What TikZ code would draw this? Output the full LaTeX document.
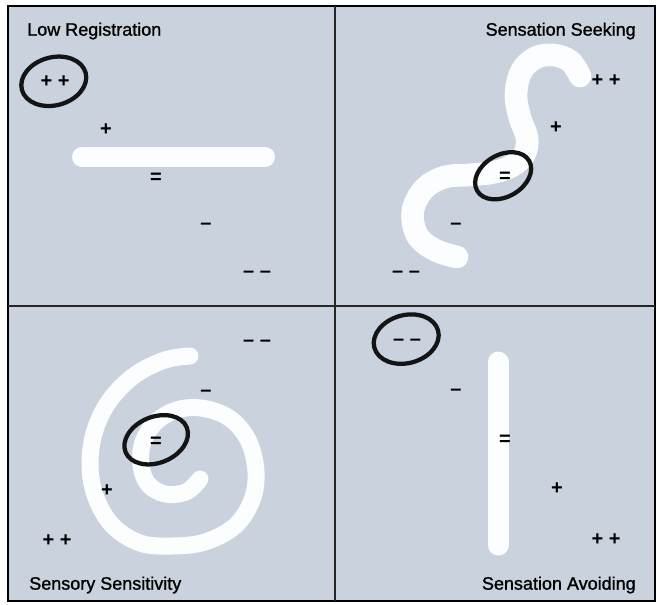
\documentclass[tikz,border=0pt]{standalone}
\usepackage{fontspec}
\setmainfont{Liberation Sans}
\newfontfamily\panelfont[FakeBold=1.2]{Liberation Sans}
\usepackage{xcolor}
\usetikzlibrary{positioning}
\definecolor{cardblue}{HTML}{C9D2DD}
\definecolor{pathwhite}{HTML}{FCFDFE}
\definecolor{inkblack}{HTML}{141414}

\begin{document}
\begin{tikzpicture}[
  x=0.75pt,y=-0.75pt,
  quadlabel/.style={font=\panelfont\fontsize{13.5}{16}\selectfont,inner sep=0pt},
  sign/.style={font=\fontsize{15}{18}\selectfont\bfseries,inner sep=1pt},
  track/.style={pathwhite,line cap=round,line join=round},
  circled/.style={inkblack,line width=3.2pt},
  divider/.style={black!85,line width=1.5pt}
]
  \useasboundingbox (0,0) rectangle (657,604);
  \draw[fill=cardblue,line width=1.5pt] (8,6) rectangle (655,601);
  \draw[divider] (335,6) -- (335,601);
  \draw[divider] (8,306) -- (655,306);

  % white tracks
  \draw[track,line width=15pt] (82,157) -- (265,157);
  \draw[track,line width=17pt] plot[smooth,tension=0.6] coordinates {
    (580,76) (570,61) (553,55) (535,58) (521,72) (516,95) (520,118)
    (527,138) (524,155) (510,167) (490,173) (468,175) (445,177)
    (425,188) (413,210) (417,235) (435,250) (457,257)};
  \draw[track,line width=12.75pt] plot[smooth,tension=0.6] coordinates {
    (190,356) (165,360) (135,375) (110,400) (95,430) (90,463) (95,495)
    (112,525) (140,543) (172,546) (205,542) (235,526) (252,500) (256,472)
    (249,442) (232,420) (207,409) (180,409) (157,421) (143,442) (141,465)
    (148,484) (165,494) (186,492) (200,479)};
  \draw[track,line width=15.75pt] (498,362) -- (498,545);

  % low registration
  \node[quadlabel,anchor=west] (lowreg) at (27,31) {Low Registration};
  \node[sign] (lr2) at (55,82) {+~+};
  \node[sign] (lr1) at (106,130) {+};
  \node[sign] (lr0) at (156,178) {=};
  \node[sign] (lrm) at (206,226) {\textendash};
  \node[sign] (lrmm) at (257,274) {\textendash~\textendash};

  % sensation seeking
  \node[quadlabel,anchor=east] (seeking) at (636,31) {Sensation Seeking};
  \node[sign] (ss2) at (606,81) {+~+};
  \node[sign] (ss1) at (556,128) {+};
  \node[sign] (ss0) at (505,177) {=};
  \node[sign] (ssm) at (456,226) {\textendash};
  \node[sign] (ssmm) at (406,274) {\textendash~\textendash};

  % sensory sensitivity
  \node[quadlabel,anchor=west] (sensitivity) at (29,585) {Sensory Sensitivity};
  \node[sign] (sn2) at (57,541) {+~+};
  \node[sign] (sn1) at (107,491) {+};
  \node[sign] (sn0) at (156,442) {=};
  \node[sign] (snm) at (206,393) {\textendash};
  \node[sign] (snmm) at (257,343) {\textendash~\textendash};

  % sensation avoiding
  \node[quadlabel,anchor=east] (avoiding) at (636,585) {Sensation Avoiding};
  \node[sign] (sa2) at (606,540) {+~+};
  \node[sign] (sa1) at (557,489) {+};
  \node[sign] (sa0) at (505,440) {=};
  \node[sign] (sam) at (456,392) {\textendash};
  \node[sign] (samm) at (407,342) {\textendash~\textendash};

  % hand-drawn rings
  \draw[circled,rotate around={15:(lr2)}] (lr2) ++(-1,-1) ellipse [x radius=33,y radius=24];
  \draw[circled,rotate around={30:(ss0)}] (ss0) ++(-1,-2) ellipse [x radius=30,y radius=21];
  \draw[circled,rotate around={22:(sn0)}] (sn0) ++(1,-2) ellipse [x radius=33,y radius=23];
  \draw[circled,rotate around={15:(samm)}] (samm) ++(0,-3) ellipse [x radius=33,y radius=24];
\end{tikzpicture}
\end{document}
